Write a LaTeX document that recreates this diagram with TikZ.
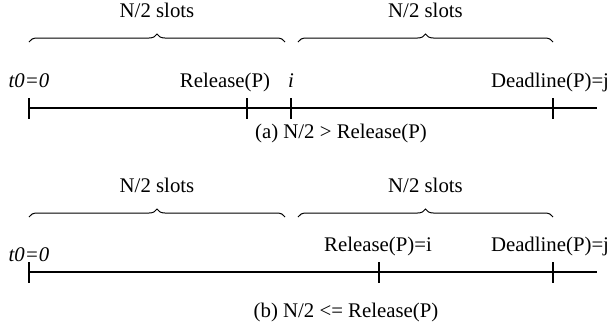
\documentclass[tikz,border=0pt]{standalone}
\usepackage{fontspec}
\setmainfont{Liberation Serif}
\usepackage{tikz}
\usetikzlibrary{calc,positioning}
\usetikzlibrary{decorations.pathreplacing}

\begin{document}
\begin{tikzpicture}[x=0.5pt,y=-0.5pt]
    \tikzstyle{lbl} = [inner sep = 0pt, anchor = base, font=\fontsize{10.4}{12}\selectfont]
    \tikzstyle{tline} = [line width=0.55pt]
    \tikzstyle{slots} = [line width=0.5pt, decorate, decoration={brace, amplitude=4pt}]
    \useasboundingbox (0,0) rectangle (616,329);
    % (a) release before the middle slot
    \coordinate (a0) at (29,108);
    \coordinate (aR) at (247,108);
    \coordinate (ai) at (291,108);
    \coordinate (aD) at (553,108);
    \coordinate (aE) at (597,108);
    \draw[tline] (a0) -- (aE);
    \foreach \p in {a0,aR,ai,aD}
      \draw[tline] ($(\p)+(0,-10)$) -- ($(\p)+(0,11)$);
    \node[lbl] (at0) at (29,87) {\textit{t0=0}};
    \node[lbl] (arel) at (225,87) {Release(P)};
    \node[lbl] (ai_l) at (291,87) {\textit{i}};
    \node[lbl] (adl) at (550,87) {Deadline(P)=j};
    \draw[slots] (29,42) -- node[lbl, above=12pt] (as1) {N/2 slots} (285,42);
    \draw[slots] (298,42) -- node[lbl, above=12pt] (as2) {N/2 slots} (553,42);
    \node[lbl] (acap) at (341,138) {(a) N/2 > Release(P)};
    % (b) release at or after the middle slot
    \coordinate (b0) at (29,272);
    \coordinate (bR) at (379,272);
    \coordinate (bD) at (553,272);
    \coordinate (bE) at (597,272);
    \draw[tline] (b0) -- (bE);
    \foreach \p in {b0,bR,bD}
      \draw[tline] ($(\p)+(0,-10)$) -- ($(\p)+(0,11)$);
    \node[lbl] (bt0) at (29,261) {\textit{t0=0}};
    \node[lbl] (brel) at (378,251) {Release(P)=i};
    \node[lbl] (bdl) at (550,251) {Deadline(P)=j};
    \draw[slots] (29,217) -- node[lbl, above=12pt] (bs1) {N/2 slots} (285,217);
    \draw[slots] (298,217) -- node[lbl, above=12pt] (bs2) {N/2 slots} (553,217);
    \node[lbl] (bcap) at (346,317) {(b) N/2 <= Release(P)};
\end{tikzpicture}
\end{document}
